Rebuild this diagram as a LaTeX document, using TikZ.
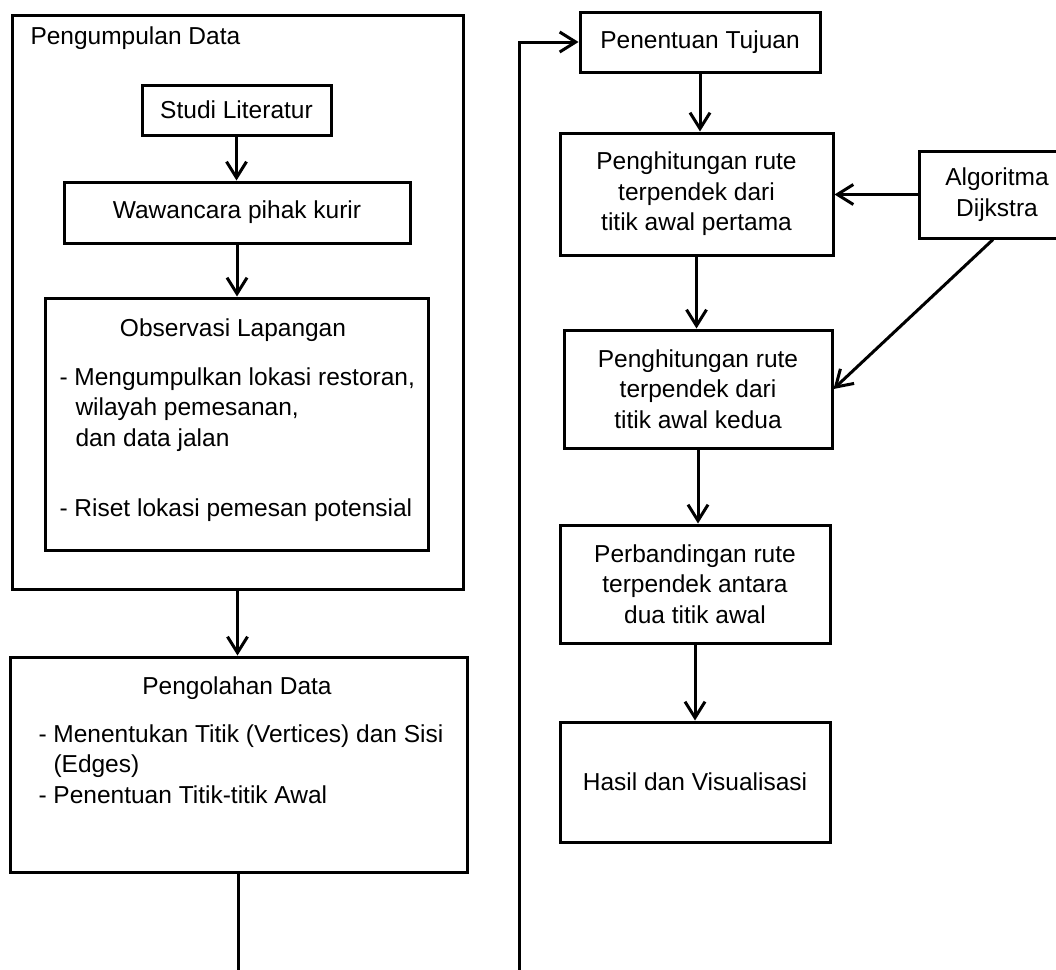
\documentclass[tikz,border=0pt]{standalone}
\usepackage{fontspec}
\setmainfont{Liberation Sans}
\usetikzlibrary{arrows.meta}

\begin{document}
\begin{tikzpicture}[x=1pt,y=-1pt,line width=3pt,>={Straight Barb[length=16pt,width=20pt]},font=\fontsize{24.5}{30.5}\selectfont,
box/.style={draw,rectangle,inner sep=0pt,align=center},
txt/.style={inner sep=0pt,align=left}]
\useasboundingbox (0,0) rectangle (1056,969);
\clip (0,0) rectangle (1056,969);
\fill[white] (0,0) rectangle (1056,969);
% left column
\node[box,minimum width=451pt,minimum height=574pt] (gather) at (237.5,302) {};
\node[txt,anchor=west] (gatherlbl) at (29,38) {Pengumpulan Data};
\node[box,minimum width=189pt,minimum height=50pt] (studi) at (236.5,110) {Studi Literatur};
\node[box,minimum width=346pt,minimum height=61pt] (wawan) at (237,212.5) {Wawancara pihak kurir};
\node[box,minimum width=383pt,minimum height=252pt] (obs) at (236.5,424) {};
\node[txt] (obslbl) at (233,330) {Observasi Lapangan};
\node[txt,anchor=base west] (obslist) at (58,516) {- Mengumpulkan lokasi restoran,\\\hspace*{16pt}wilayah pemesanan,\\\hspace*{16pt}dan data jalan\\[39.5pt]- Riset lokasi pemesan potensial};
\node[box,minimum width=457pt,minimum height=215pt] (olah) at (238.5,764.5) {};
\node[txt] (olahlbl) at (237,688) {Pengolahan Data};
\node[txt,anchor=base west] (olahlist) at (37,803) {- Menentukan Titik (Vertices) dan Sisi\\\hspace*{15pt}(Edges)\\- Penentuan Titik-titik Awal};
% right column
\node[box,minimum width=240pt,minimum height=60pt] (tujuan) at (700,42) {Penentuan Tujuan};
\node[box,minimum width=273pt,minimum height=122pt] (hitung1) at (696.5,194) {Penghitungan rute\\terpendek dari\\titik awal pertama};
\node[box,minimum width=268pt,minimum height=118pt] (hitung2) at (698,389) {Penghitungan rute\\terpendek dari\\titik awal kedua};
\node[box,minimum width=270pt,minimum height=118pt] (banding) at (695,584) {Perbandingan rute\\terpendek antara\\dua titik awal};
\node[box,minimum width=270pt,minimum height=120pt] (hasil) at (695,782) {Hasil dan Visualisasi};
\node[box,minimum width=156pt,minimum height=87pt] (dijkstra) at (997,194.5) {Algoritma\\Dijkstra};
\coordinate (turn) at (519,1000);
% arrows
\draw[->] (studi.south) -- (studi.south |- wawan.north);
\draw[->] (wawan.south) -- (wawan.south |- obs.north);
\draw[->] (gather.south) -- (gather.south |- olah.north);
\draw[->] (olah.south) |- (turn) |- (tujuan.west);
\draw[->] (tujuan.south) -- (tujuan.south |- hitung1.north);
\draw[->] (hitung1.south) -- (hitung1.south |- hitung2.north);
\draw[->] (hitung2.south) -- (hitung2.south |- banding.north);
\draw[->] (banding.south) -- (banding.south |- hasil.north);
\draw[->] (dijkstra.west) -- (dijkstra.west -| hitung1.east);
\draw[->] ([xshift=-4pt]dijkstra.south) -- (hitung2.east);
\end{tikzpicture}
\end{document}
